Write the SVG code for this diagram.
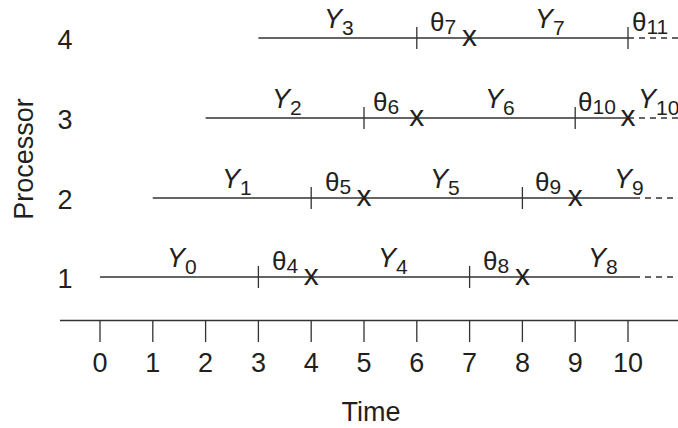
<svg xmlns="http://www.w3.org/2000/svg" width="678" height="428" viewBox="0 0 678 428">
<style>
text{font-family:"Liberation Sans",Arial,sans-serif;fill:#231f20}
.ax{font-size:27px}
.y{font-size:27px;font-style:italic}
.th{font-size:26px}
.s{font-size:21px;font-style:normal}
.m{font-size:30px;text-anchor:middle}
.c{text-anchor:middle}
.ln{stroke:#333;stroke-width:1.3;fill:none}
.d{stroke:#333;stroke-width:1.3;fill:none;stroke-dasharray:6 5}
</style>
<rect width="678" height="428" fill="#fff"/>
<g id="axis">
<path class="ln" d="M60 320.5H678M100 321V342M152.8 321V342M205.6 321V342M258.4 321V342M311.2 321V342M364 321V342M416.8 321V342M469.6 321V342M522.4 321V342M575.2 321V342M628 321V342"/>
<g class="ax c">
<text x="100" y="372">0</text><text x="152.8" y="372">1</text><text x="205.6" y="372">2</text><text x="258.4" y="372">3</text><text x="311.2" y="372">4</text><text x="364" y="372">5</text><text x="416.8" y="372">6</text><text x="469.6" y="372">7</text><text x="522.4" y="372">8</text><text x="575.2" y="372">9</text><text x="628" y="372">10</text>
</g>
<text class="ax c" x="371" y="421">Time</text>
<text class="ax c" transform="translate(33 159) rotate(-90)">Processor</text>
<g class="ax c">
<text x="65" y="49">4</text><text x="65" y="129">3</text><text x="65" y="209">2</text><text x="65" y="288">1</text>
</g>
</g>
<g id="connectors">
<path class="ln" d="M258.4 38H628M416.8 27V49M628 27V49"/>
<path class="d" d="M628 38H678"/>
<path class="ln" d="M205.6 118H628M364 107V129M575.2 107V129"/>
<path class="d" d="M628 118H678"/>
<path class="ln" d="M152.8 198H634M311.2 187V209M522.4 187V209"/>
<path class="d" d="M634 198H678"/>
<path class="ln" d="M100 277H634M258.4 266V288M469.6 266V288"/>
<path class="d" d="M634 277H678"/>
</g>
<g id="row4">
<text class="y" x="324" y="28">Y<tspan class="s" dy="7">3</tspan></text>
<text class="th" x="430" y="31">θ<tspan class="s" dy="3">7</tspan></text>
<text class="m" x="469.6" y="46">x</text>
<text class="y" x="535" y="28">Y<tspan class="s" dy="7">7</tspan></text>
<text class="th" x="632" y="31">θ<tspan class="s" dy="3">11</tspan></text>
</g>
<g id="row3">
<text class="y" x="272" y="108">Y<tspan class="s" dy="7">2</tspan></text>
<text class="th" x="373" y="111">θ<tspan class="s" dy="3">6</tspan></text>
<text class="m" x="416.8" y="126">x</text>
<text class="y" x="485" y="108">Y<tspan class="s" dy="7">6</tspan></text>
<text class="th" x="578" y="111">θ<tspan class="s" dy="3">10</tspan></text>
<text class="m" x="628" y="126">x</text>
<text class="y" x="638" y="108">Y<tspan class="s" dy="7">10</tspan></text>
</g>
<g id="row2">
<text class="y" x="222" y="188">Y<tspan class="s" dy="7">1</tspan></text>
<text class="th" x="325" y="191">θ<tspan class="s" dy="3">5</tspan></text>
<text class="m" x="364" y="206">x</text>
<text class="y" x="430" y="188">Y<tspan class="s" dy="7">5</tspan></text>
<text class="th" x="535" y="191">θ<tspan class="s" dy="3">9</tspan></text>
<text class="m" x="575.2" y="206">x</text>
<text class="y" x="614" y="188">Y<tspan class="s" dy="7">9</tspan></text>
</g>
<g id="row1">
<text class="y" x="167" y="267">Y<tspan class="s" dy="7">0</tspan></text>
<text class="th" x="272" y="270">θ<tspan class="s" dy="3">4</tspan></text>
<text class="m" x="311.2" y="285">x</text>
<text class="y" x="378" y="267">Y<tspan class="s" dy="7">4</tspan></text>
<text class="th" x="483" y="270">θ<tspan class="s" dy="3">8</tspan></text>
<text class="m" x="522.4" y="285">x</text>
<text class="y" x="588" y="267">Y<tspan class="s" dy="7">8</tspan></text>
</g>
</svg>
